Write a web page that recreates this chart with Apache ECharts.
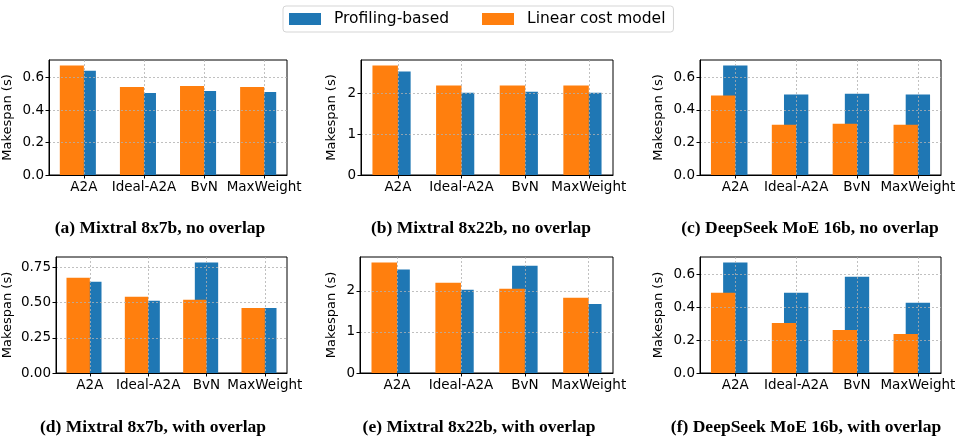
<!DOCTYPE html>
<html>
<head>
<meta charset="utf-8">
<script src="https://cdn.jsdelivr.net/npm/echarts@6/dist/echarts.min.js"></script>
<style>
  html, body { margin: 0; padding: 0; background: #fff; }
  #chart { width: 961px; height: 443px; }
</style>
</head>
<body>
<div id="chart"></div>
<script>
  var categories = ['A2A', 'Ideal-A2A', 'BvN', 'MaxWeight'];

  // makespan in seconds
  var prof7bNo = [0.642, 0.506, 0.518, 0.512];
  var lin7bNo = [0.675, 0.543, 0.549, 0.543];
  var prof22bNo = [2.53, 2.01, 2.04, 2.01];
  var lin22bNo = [2.68, 2.19, 2.19, 2.19];
  var profDsNo = [0.673, 0.494, 0.500, 0.494];
  var linDsNo = [0.488, 0.309, 0.315, 0.309];

  var prof7bOv = [0.648, 0.512, 0.784, 0.462];
  var lin7bOv = [0.676, 0.541, 0.519, 0.462];
  var prof22bOv = [2.52, 2.03, 2.61, 1.68];
  var lin22bOv = [2.69, 2.20, 2.05, 1.83];
  var profDsOv = [0.673, 0.489, 0.587, 0.428];
  var linDsOv = [0.489, 0.305, 0.262, 0.237];

  var ticksSmall = [0, 0.2, 0.4, 0.6];
  var ticksBig = [0, 1, 2];
  var ticks7bOv = [0, 0.25, 0.5, 0.75];

  var captions = [
    '(a) Mixtral 8x7b, no overlap',
    '(b) Mixtral 8x22b, no overlap',
    '(c) DeepSeek MoE 16b, no overlap',
    '(d) Mixtral 8x7b, with overlap',
    '(e) Mixtral 8x22b, with overlap',
    '(f) DeepSeek MoE 16b, with overlap'
  ];

  var BLUE = '#1f77b4', ORANGE = '#ff7f0e';
  var FONT = 'DejaVu Sans';

  var panels = [
    {prof: prof7bNo, lin: lin7bNo, ticks: ticksSmall, dec: 1, left: 47, width: 240, top: 60, height: 115, nameGap: 35, capX: 160, capY: 228},
    {prof: prof22bNo, lin: lin22bNo, ticks: ticksBig, dec: 0, left: 361, width: 252, top: 60, height: 115, nameGap: 23, capX: 481, capY: 228},
    {prof: profDsNo, lin: linDsNo, ticks: ticksSmall, dec: 1, left: 700, width: 241, top: 60, height: 115, nameGap: 35, capX: 810, capY: 228},
    {prof: prof7bOv, lin: lin7bOv, ticks: ticks7bOv, dec: 2, left: 55, width: 232, top: 257, height: 116, nameGap: 42, capX: 153, capY: 427},
    {prof: prof22bOv, lin: lin22bOv, ticks: ticksBig, dec: 0, left: 360, width: 253, top: 257, height: 116, nameGap: 22, capX: 479, capY: 427},
    {prof: profDsOv, lin: linDsOv, ticks: ticksSmall, dec: 1, left: 700, width: 241, top: 257, height: 116, nameGap: 35, capX: 806, capY: 427}
  ];

  function barItem(from, to, color) {
    return function (params, api) {
      var i = api.value(0), v = api.value(1);
      var p0 = api.coord([i + from, v]);
      var p1 = api.coord([i + to, 0]);
      return {
        type: 'rect',
        shape: {x: p0[0], y: p0[1], width: p1[0] - p0[0], height: p1[1] - p0[1]},
        style: {fill: color}
      };
    };
  }

  function toPoints(arr) {
    return arr.map(function (v, i) { return [i, v]; });
  }

  var grids = [], xAxes = [], yAxes = [], series = [], graphics = [];
  var gridLine = {show: true, lineStyle: {color: '#b0b0b0', width: 0.8, type: [2, 2]}};

  panels.forEach(function (p, k) {
    grids.push({
      left: p.left, top: p.top, width: p.width, height: p.height,
      show: true, borderColor: '#000', borderWidth: 1
    });
    xAxes.push({
      type: 'value', gridIndex: k, min: -0.58, max: 3.38, z: 3,
      axisLine: {show: true, onZero: false, lineStyle: {color: '#000', width: 1}},
      axisTick: {show: true, length: 3.5, customValues: [0, 1, 2, 3], lineStyle: {color: '#000'}},
      axisLabel: {
        customValues: [0, 1, 2, 3], margin: 5, color: '#000', fontFamily: FONT, fontSize: 13.5,
        formatter: function (v) { return categories[Math.round(v)]; }
      },
      splitLine: gridLine
    });
    yAxes.push({
      type: 'value', gridIndex: k, min: 0, z: 3,
      max: function (e) { return e.max * 1.05; },
      name: 'Makespan (s)', nameLocation: 'middle', nameGap: p.nameGap,
      nameTextStyle: {color: '#000', fontFamily: FONT, fontSize: 13},
      axisLine: {show: true, onZero: false, lineStyle: {color: '#000', width: 1}},
      axisTick: {show: true, length: 3.5, customValues: p.ticks, lineStyle: {color: '#000'}},
      axisLabel: {
        customValues: p.ticks, margin: 5, color: '#000', fontFamily: FONT, fontSize: 13.5,
        formatter: (function (d) { return function (v) { return v.toFixed(d); }; })(p.dec)
      },
      splitLine: gridLine
    });
    series.push({
      type: 'custom', name: 'Profiling-based', xAxisIndex: k, yAxisIndex: k,
      itemStyle: {color: BLUE}, clip: true,
      encode: {x: 0, y: 1},
      renderItem: barItem(-0.2, 0.2, BLUE),
      data: toPoints(p.prof)
    });
    series.push({
      type: 'custom', name: 'Linear cost model', xAxisIndex: k, yAxisIndex: k,
      itemStyle: {color: ORANGE}, clip: true,
      encode: {x: 0, y: 1},
      renderItem: barItem(-0.4, 0, ORANGE),
      data: toPoints(p.lin)
    });
    graphics.push({
      type: 'text', x: p.capX, y: p.capY,
      style: {
        text: captions[k], align: 'center', verticalAlign: 'middle',
        font: 'bold 17.5px "Liberation Serif"', fill: '#000'
      }
    });
  });

  var chart = echarts.init(document.getElementById('chart'), null, {renderer: 'canvas'});
  chart.setOption({
    animation: false,
    backgroundColor: '#fff',
    legend: {
      data: ['Profiling-based', 'Linear cost model'],
      left: 283, top: 6,
      icon: 'rect', itemWidth: 32, itemHeight: 12, itemGap: 33,
      padding: [5, 8, 5, 6],
      borderColor: '#d5d5d5', borderWidth: 1, borderRadius: 3,
      textStyle: {color: '#000', fontFamily: FONT, fontSize: 15.5, padding: [0, 0, 0, 8]}
    },
    grid: grids,
    xAxis: xAxes,
    yAxis: yAxes,
    series: series,
    graphic: graphics
  });
</script>
</body>
</html>
